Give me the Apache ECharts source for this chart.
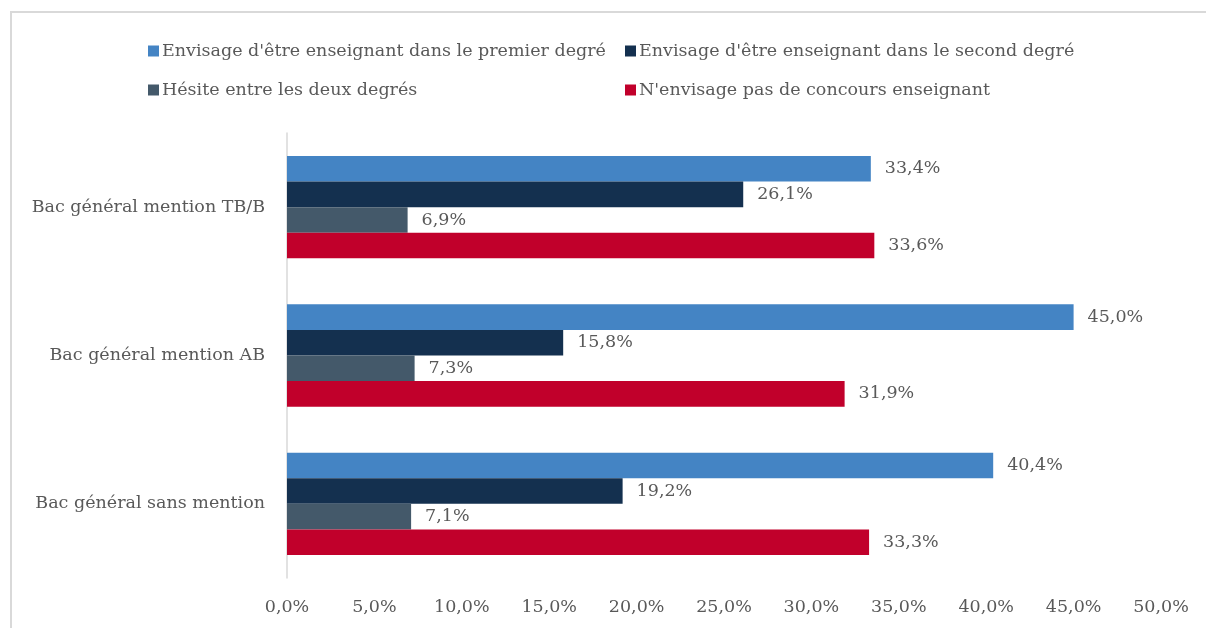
<!DOCTYPE html>
<html>
<head>
<meta charset="utf-8">
<script src="https://cdn.jsdelivr.net/npm/echarts@6/dist/echarts.min.js"></script>
<style>
  html, body { margin: 0; padding: 0; background: #fff; overflow: hidden; }
  #chart { width: 1206px; height: 628px; }
</style>
</head>
<body>
<div id="chart"></div>
<script>
const FONT = '"DejaVu Serif", "Liberation Serif", serif';
const TEXT = '#595959';
const SIZE = 17.5;

const categories = ['Bac général mention TB/B', 'Bac général mention AB', 'Bac général sans mention'];
const seriesNames = [
  "Envisage d'être enseignant dans le premier degré",
  "Envisage d'être enseignant dans le second degré",
  'Hésite entre les deux degrés',
  "N'envisage pas de concours enseignant",
];
const premier = [33.4, 45.0, 40.4];
const second = [26.1, 15.8, 19.2];
const hesite = [6.9, 7.3, 7.1];
const aucun = [33.6, 31.9, 33.3];
const colors = ['#4484C4', '#14304F', '#44596A', '#C1002B'];

const pct = v => v.toFixed(1).replace('.', ',') + '%';

const chart = echarts.init(document.getElementById('chart'), null, { renderer: 'canvas' });

const legendBase = {
  orient: 'vertical',
  top: 37,
  itemWidth: 11,
  itemHeight: 11,
  itemGap: 21,
  icon: 'rect',
  textStyle: { fontFamily: FONT, fontSize: SIZE, color: TEXT, padding: [0, 0, 0, -2] },
};

chart.setOption({
  animation: false,
  textStyle: { fontFamily: FONT },
  graphic: [{
    type: 'polyline',
    shape: { points: [[11, 640], [11, 12], [1220, 12]] },
    style: { fill: null, stroke: '#D9D9D9', lineWidth: 2 },
  }],
  legend: [
    Object.assign({}, legendBase, { left: 143, data: [seriesNames[0], seriesNames[2]] }),
    Object.assign({}, legendBase, { left: 620, data: [seriesNames[1], seriesNames[3]] }),
  ],
  grid: { left: 287, right: 45, top: 133, bottom: 50 },
  xAxis: {
    type: 'value',
    min: 0,
    max: 50,
    interval: 5,
    splitLine: { show: false },
    axisLine: { show: false },
    axisTick: { show: false },
    axisLabel: {
      formatter: v => pct(v),
      fontFamily: FONT,
      fontSize: SIZE,
      color: TEXT,
      margin: 20,
    },
  },
  yAxis: {
    type: 'category',
    inverse: true,
    data: categories,
    axisLine: { lineStyle: { color: '#D9D9D9', width: 1.5 } },
    axisTick: { show: false },
    axisLabel: { fontFamily: FONT, fontSize: SIZE, color: TEXT, margin: 22 },
  },
  series: [premier, second, hesite, aucun].map((vals, i) => ({
    name: seriesNames[i],
    type: 'bar',
    data: vals,
    barGap: '0%',
    barCategoryGap: '31%',
    itemStyle: { color: colors[i] },
    label: {
      show: true,
      position: 'right',
      distance: 14,
      formatter: p => pct(p.value),
      fontFamily: FONT,
      fontSize: SIZE,
      color: TEXT,
    },
  })),
});
</script>
</body>
</html>
